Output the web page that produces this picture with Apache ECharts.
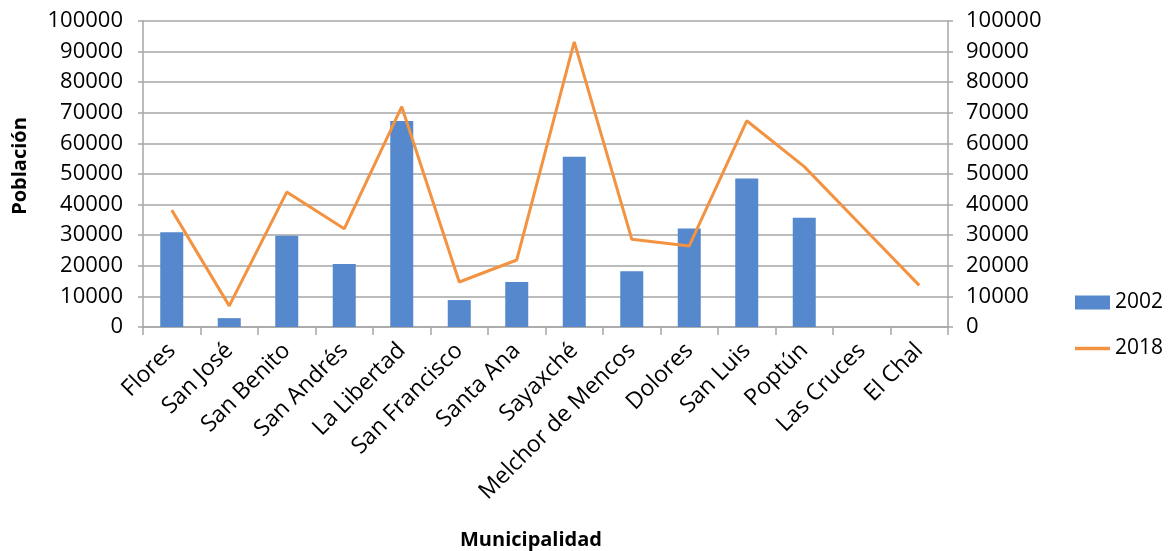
<!DOCTYPE html>
<html><head><meta charset="utf-8">
<script src="https://cdn.jsdelivr.net/npm/echarts@6/dist/echarts.min.js"></script>
<style>html,body{margin:0;padding:0;background:#fff}#c{width:1172px;height:551px}</style>
</head><body><div id="c"></div>
<script>
const categories = ['Flores','San José','San Benito','San Andrés','La Libertad','San Francisco','Santa Ana','Sayaxché','Melchor de Mencos','Dolores','San Luis','Poptún','Las Cruces','El Chal'];
const pop2002 = [31000, 2900, 29800, 20600, 67300, 8800, 14700, 55600, 18200, 32200, 48500, 35700, null, null];
const pop2018 = [38200, 6900, 44100, 32100, 72000, 14700, 21900, 93200, 28700, 26500, 67400, 52400, 33000, 13600];
const yTicks = {min: 0, max: 100000, interval: 10000};
const seriesNames = ['2002', '2018'];

const font = 'Open Sans';
const grey = '#a6a6a6';
const chart = echarts.init(document.getElementById('c'));
const axisCommon = {
  type: 'value', min: yTicks.min, max: yTicks.max, interval: yTicks.interval,
  axisLine: {show: true, lineStyle: {color: grey, width: 1.5}},
  axisTick: {show: true, length: 5, lineStyle: {color: grey, width: 1.5}},
  splitLine: {show: true, lineStyle: {color: grey, width: 1.5}},
  axisLabel: {color: '#000', fontFamily: font, fontSize: 22, margin: 20, formatter: v => String(v)}
};
chart.setOption({
  animation: false,
  title: {text: 'Municipalidad', left: 455, top: 525,
    textStyle: {fontFamily: font, fontSize: 20, fontWeight: 'bold', color: '#000'}},
  graphic: [{type: 'text', x: 20, y: 166, rotation: Math.PI / 2,
    style: {text: 'Población', fontFamily: font, fontSize: 20, fontWeight: 'bold', fill: '#000',
      textAlign: 'center', textVerticalAlign: 'middle'}}],
  grid: {left: 143, right: 224, top: 21, bottom: 224, containLabel: false},
  legend: {
    orient: 'vertical', left: 1070, top: 287, itemWidth: 35, itemHeight: 14, itemGap: 25,
    textStyle: {fontFamily: font, fontSize: 21, color: '#000'},
    data: [{name: seriesNames[0], icon: 'rect'},
           {name: seriesNames[1], icon: 'path://M0,0 H35 V3.5 H0 Z'}]
  },
  xAxis: {
    type: 'category', data: categories,
    axisLine: {lineStyle: {color: grey, width: 1.5}},
    axisTick: {show: true, length: 8, lineStyle: {color: grey, width: 1.5}},
    axisLabel: {rotate: 45, interval: 0, color: '#000', fontFamily: font, fontSize: 23, margin: 20}
  },
  yAxis: [
    Object.assign({}, axisCommon),
    Object.assign({}, axisCommon, {position: 'right', splitLine: {show: false}, axisLabel: Object.assign({}, axisCommon.axisLabel, {margin: 18})})
  ],
  series: [
    {name: seriesNames[0], type: 'bar', data: pop2002, barWidth: '40%',
     itemStyle: {color: '#5588cd'}},
    {name: seriesNames[1], type: 'line', yAxisIndex: 1, data: pop2018, symbol: 'none',
     lineStyle: {color: '#f39240', width: 3}, itemStyle: {color: '#f39240'}, connectNulls: true}
  ]
});
</script></body></html>
